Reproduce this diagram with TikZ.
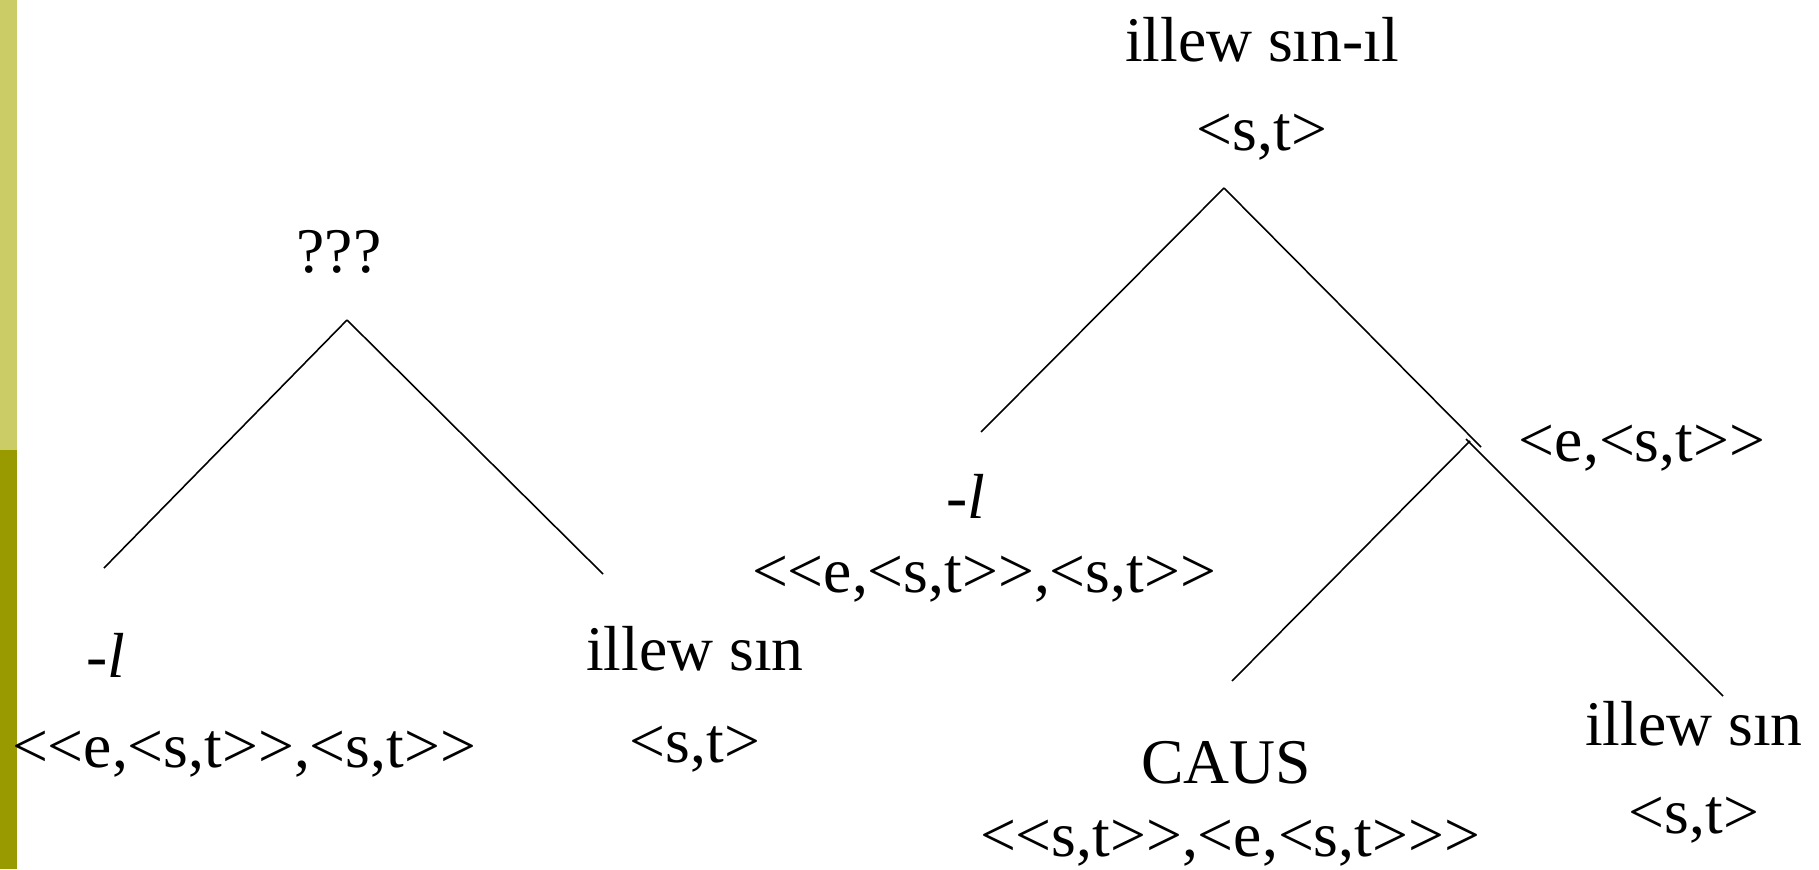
\documentclass[tikz,border=0pt]{standalone}
\usepackage{fontspec}
\setmainfont{Liberation Serif}[Ligatures=TeXOff]
\definecolor{barlight}{HTML}{CCCC66}
\definecolor{bardark}{HTML}{999900}
\begin{document}
\begin{tikzpicture}[x=0.01cm,y=-0.01cm,
  lbl/.style={inner sep=0pt,anchor=base,font=\fontsize{18.1}{22}\selectfont},
  edge/.style={line width=0.45pt}]
\useasboundingbox (0,0) rectangle (1819,869);
% side bar
\fill[barlight] (0,0) rectangle (17,450);
\fill[bardark] (0,450) rectangle (17,869);

% left tree
\node[lbl] (q) at (339,272) {???};
\coordinate (qa) at (347,320);
\coordinate (ql) at (104,568);
\coordinate (qr) at (603,574);
\node[lbl] (l1) at (106,677) {\itshape -l};
\node[lbl] (l1t) at (244,767) {<<e,<s,t>>,<s,t>>};
\node[lbl] (is1) at (695,670) {illew sın};
\node[lbl] (is1t) at (695,762) {<s,t>};
\draw[edge] (qa) -- (ql);
\draw[edge] (qa) -- (qr);

% right tree
\node[lbl] (top) at (1262,61) {illew sın-ıl};
\node[lbl] (topt) at (1262,150) {<s,t>};
\coordinate (ta) at (1224,188);
\coordinate (tl) at (981,432);
\coordinate (tr) at (1481,447);
\node[lbl] (l2) at (966,518) {\itshape -l};
\node[lbl] (l2t) at (984,592) {<<e,<s,t>>,<s,t>>};
\node[lbl] (mid) at (1642,461) {<e,<s,t>>};
\coordinate (ma) at (1470,441);
\coordinate (mr0) at (1466,439);
\coordinate (ml) at (1232,681);
\coordinate (mr) at (1723,696);
\node[lbl] (caus) at (1226,783) {CAUS};
\node[lbl] (caust) at (1230,856) {<<s,t>>,<e,<s,t>>>};
\node[lbl] (is2) at (1694,745) {illew sın};
\node[lbl] (is2t) at (1694,833) {<s,t>};
\draw[edge] (ta) -- (tl);
\draw[edge] (ta) -- (tr);
\draw[edge] (ma) -- (ml);
\draw[edge] (mr0) -- (mr);
\end{tikzpicture}
\end{document}
